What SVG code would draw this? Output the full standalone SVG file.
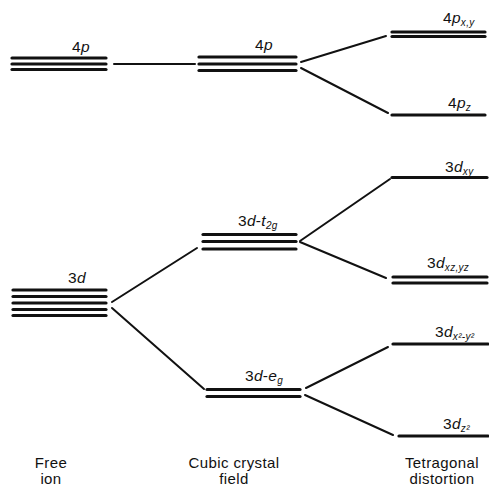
<svg xmlns="http://www.w3.org/2000/svg" width="489" height="489" viewBox="0 0 489 489">
<style>
.lv{stroke:#111;stroke-width:3.2;stroke-linecap:round;fill:none}
.cn{stroke:#111;stroke-width:2;stroke-linecap:round;fill:none}
.lb{font-family:"Liberation Sans",Arial,sans-serif;font-size:15.5px;fill:#111;letter-spacing:0.3px}
.it{font-style:italic}
.sb{font-size:10px;font-style:italic}
.ax{font-family:"Liberation Sans",Arial,sans-serif;font-size:15px;fill:#111;text-anchor:middle;letter-spacing:0.4px}
</style>
<rect width="489" height="489" fill="#fff"/>
<g id="connectors">
<line class="cn" x1="114" y1="64" x2="195" y2="64"/>
<line class="cn" x1="301" y1="62" x2="386" y2="36"/>
<line class="cn" x1="301" y1="68" x2="388" y2="113"/>
<line class="cn" x1="112" y1="302" x2="197" y2="248"/>
<line class="cn" x1="112" y1="308" x2="204" y2="389"/>
<line class="cn" x1="300" y1="241" x2="390" y2="179"/>
<line class="cn" x1="300" y1="242" x2="386" y2="278"/>
<line class="cn" x1="306" y1="388" x2="388" y2="347"/>
<line class="cn" x1="305" y1="395" x2="393" y2="435"/>
</g>
<g id="free-4p">
<line class="lv" x1="12" y1="58" x2="106" y2="58"/>
<line class="lv" x1="12" y1="64" x2="106" y2="64"/>
<line class="lv" x1="12" y1="69.5" x2="106" y2="69.5"/>
<text class="lb" x="72" y="52">4<tspan class="it">p</tspan></text>
</g>
<g id="cubic-4p">
<line class="lv" x1="199" y1="57" x2="296" y2="57"/>
<line class="lv" x1="199" y1="64" x2="296" y2="64"/>
<line class="lv" x1="199" y1="70.5" x2="296" y2="70.5"/>
<text class="lb" x="255" y="50">4<tspan class="it">p</tspan></text>
</g>
<g id="tet-4pxy">
<line class="lv" x1="392" y1="32" x2="485" y2="32"/>
<line class="lv" x1="392" y1="36.5" x2="485" y2="36.5"/>
<text class="lb" x="443" y="23">4<tspan class="it">p</tspan><tspan class="sb" dy="3">x,y</tspan></text>
</g>
<g id="tet-4pz">
<line class="lv" x1="392" y1="115" x2="485" y2="115"/>
<text class="lb" x="448" y="108">4<tspan class="it">p</tspan><tspan class="sb" dy="3">z</tspan></text>
</g>
<g id="free-3d">
<line class="lv" x1="13" y1="290" x2="106" y2="290"/>
<line class="lv" x1="13" y1="296.5" x2="106" y2="296.5"/>
<line class="lv" x1="13" y1="303" x2="106" y2="303"/>
<line class="lv" x1="13" y1="309.5" x2="106" y2="309.5"/>
<line class="lv" x1="13" y1="315.5" x2="106" y2="315.5"/>
<text class="lb" x="68" y="283">3<tspan class="it">d</tspan></text>
</g>
<g id="cubic-t2g">
<line class="lv" x1="203" y1="234.5" x2="296" y2="234.5"/>
<line class="lv" x1="203" y1="241.5" x2="296" y2="241.5"/>
<line class="lv" x1="203" y1="249" x2="296" y2="249"/>
<text class="lb" x="238" y="226">3<tspan class="it">d</tspan>-<tspan class="it">t</tspan><tspan class="sb" dy="3">2g</tspan></text>
</g>
<g id="cubic-eg">
<line class="lv" x1="207" y1="389.5" x2="300" y2="389.5"/>
<line class="lv" x1="207" y1="396.5" x2="300" y2="396.5"/>
<text class="lb" x="245" y="381">3<tspan class="it">d</tspan>-<tspan class="it">e</tspan><tspan class="sb" dy="3">g</tspan></text>
</g>
<g id="tet-3dxy">
<line class="lv" x1="392" y1="177.5" x2="487" y2="177.5"/>
<text class="lb" x="445" y="172">3<tspan class="it">d</tspan><tspan class="sb" dy="3">xy</tspan></text>
</g>
<g id="tet-3dxzyz">
<line class="lv" x1="393" y1="277" x2="487" y2="277"/>
<line class="lv" x1="393" y1="283" x2="487" y2="283"/>
<text class="lb" x="427" y="268">3<tspan class="it">d</tspan><tspan class="sb" dy="3">xz,yz</tspan></text>
</g>
<g id="tet-3dx2y2">
<line class="lv" x1="393" y1="344" x2="488" y2="344"/>
<text class="lb" x="435" y="337">3<tspan class="it">d</tspan><tspan class="sb" dy="3">x²-y²</tspan></text>
</g>
<g id="tet-3dz2">
<line class="lv" x1="399" y1="436" x2="488" y2="436"/>
<text class="lb" x="443" y="429">3<tspan class="it">d</tspan><tspan class="sb" dy="3">z²</tspan></text>
</g>
<g id="axis-labels">
<text class="ax" x="51" y="468">Free</text>
<text class="ax" x="51" y="484">ion</text>
<text class="ax" x="234" y="468">Cubic crystal</text>
<text class="ax" x="234" y="484">field</text>
<text class="ax" x="442" y="468">Tetragonal</text>
<text class="ax" x="442" y="484">distortion</text>
</g>
</svg>
